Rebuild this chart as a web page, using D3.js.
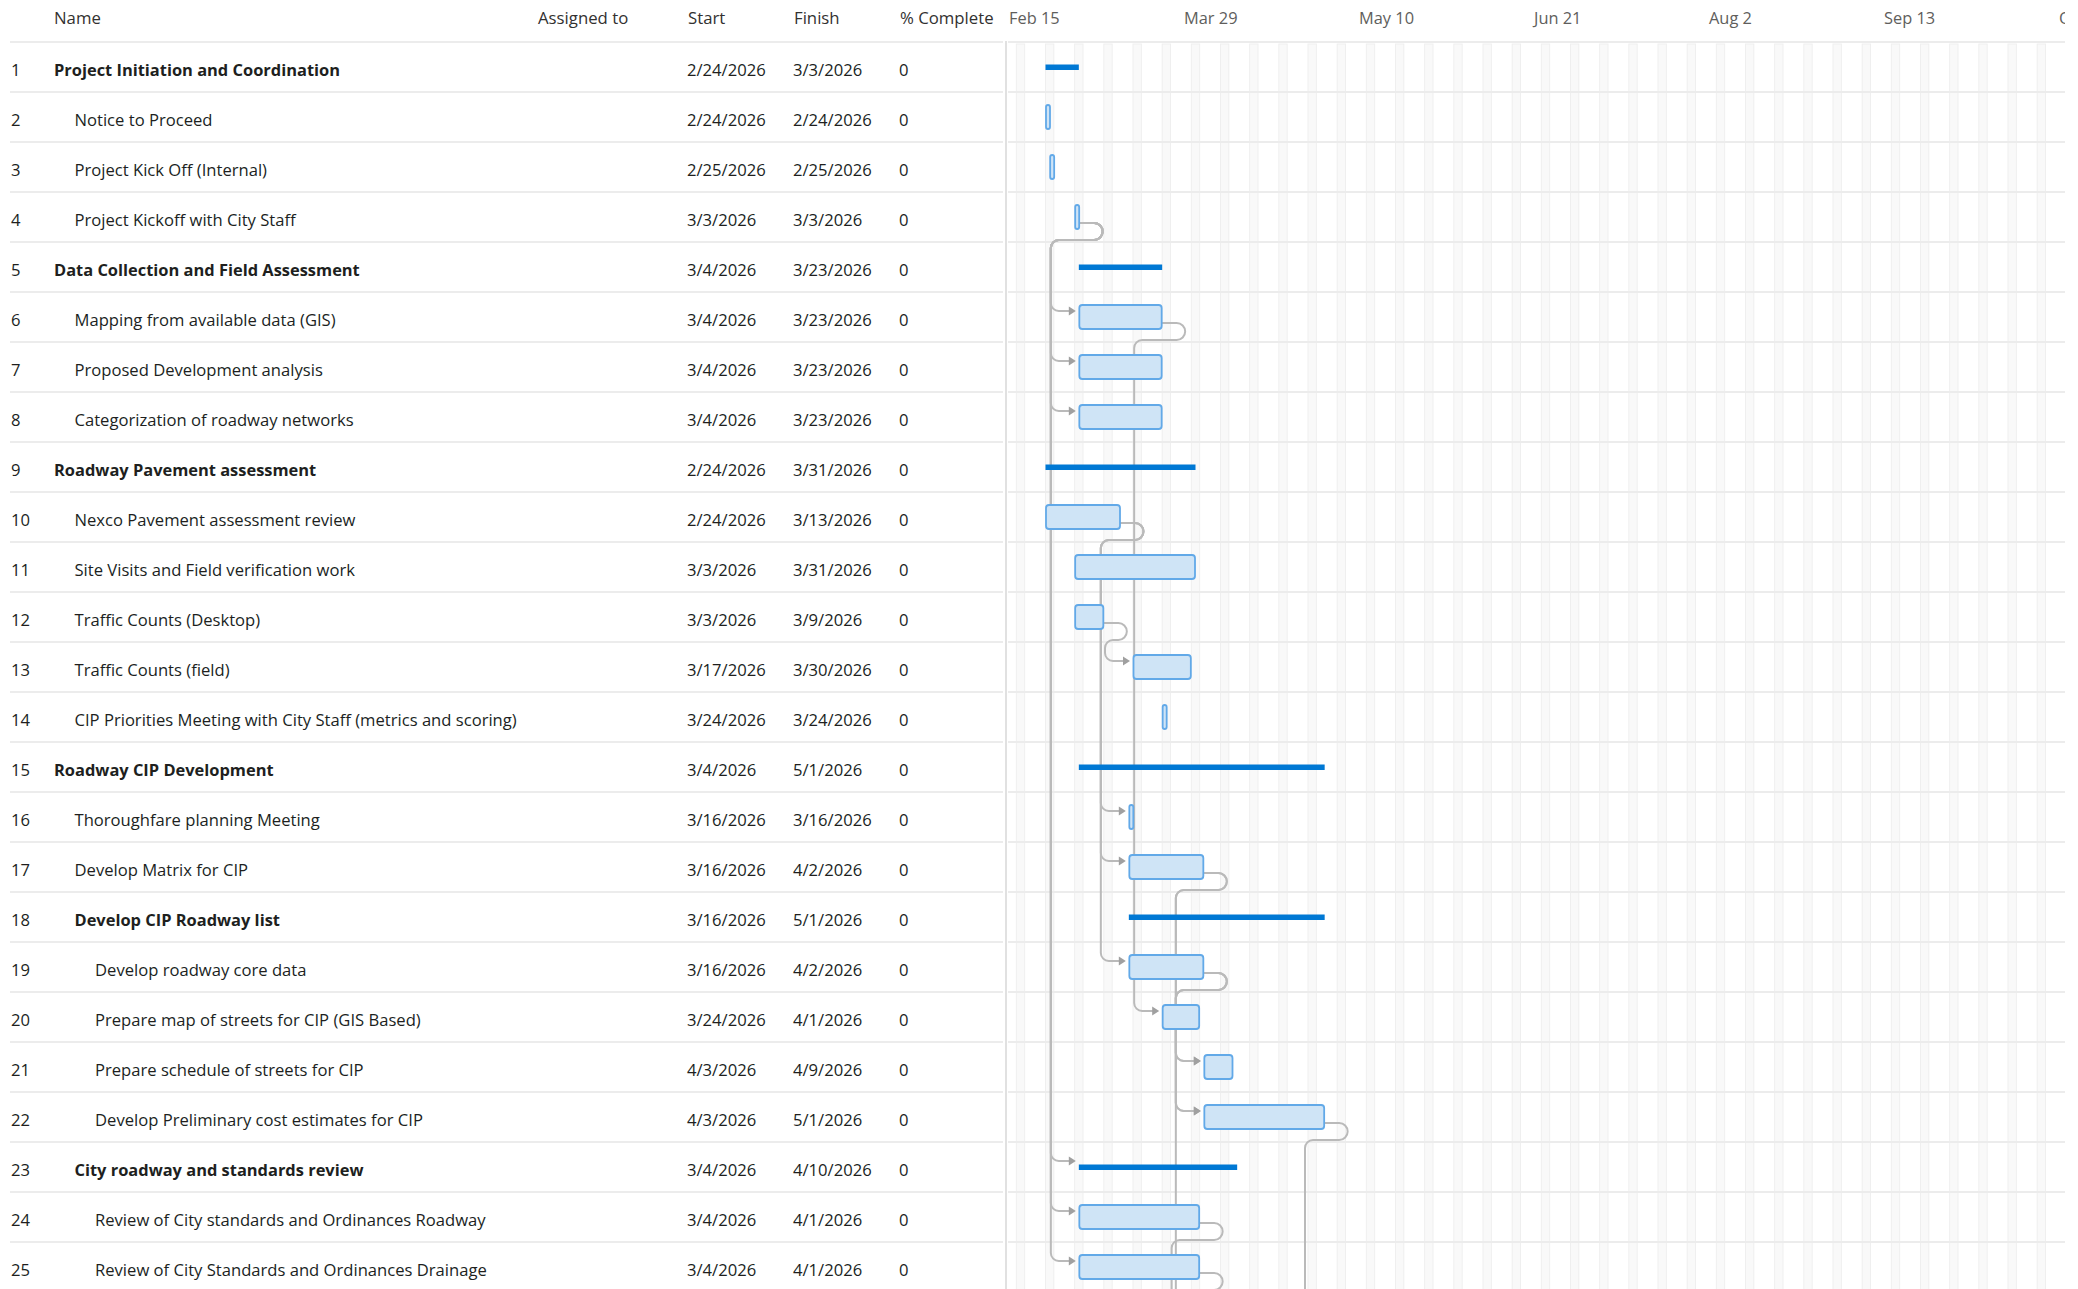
<!DOCTYPE html>
<html>
<head>
<meta charset="utf-8">
<script src="https://cdn.jsdelivr.net/npm/d3@7"></script>
<style>
  html, body { margin: 0; padding: 0; background: #ffffff; overflow: hidden; }
  svg { display: block; }
</style>
</head>
<body>
<svg id="chart" width="2078" height="1289"></svg>
<script>
// ---------------- DATA ----------------
const columnLabels = ["Name", "Assigned to", "Start", "Finish", "% Complete"];

const taskIds = [1,2,3,4,5,6,7,8,9,10,11,12,13,14,15,16,17,18,19,20,21,22,23,24,25];

const taskNames = [
  "Project Initiation and Coordination",
  "Notice to Proceed",
  "Project Kick Off (Internal)",
  "Project Kickoff with City Staff",
  "Data Collection and Field Assessment",
  "Mapping from available data (GIS)",
  "Proposed Development analysis",
  "Categorization of roadway networks",
  "Roadway Pavement assessment",
  "Nexco Pavement assessment review",
  "Site Visits and Field verification work",
  "Traffic Counts (Desktop)",
  "Traffic Counts (field)",
  "CIP Priorities Meeting with City Staff (metrics and scoring)",
  "Roadway CIP Development",
  "Thoroughfare planning Meeting",
  "Develop Matrix for CIP",
  "Develop CIP Roadway list",
  "Develop roadway core data",
  "Prepare map of streets for CIP (GIS Based)",
  "Prepare schedule of streets for CIP",
  "Develop Preliminary cost estimates for CIP",
  "City roadway and standards review",
  "Review of City standards and Ordinances Roadway",
  "Review of City Standards and Ordinances Drainage"
];

const taskLevels = [1,2,2,2,1,2,2,2,1,2,2,2,2,2,1,2,2,2,3,3,3,3,2,3,3];

const taskAssigned = ["","","","","","","","","","","","","","","","","","","","","","","","",""];

const taskStarts = [
  "2/24/2026","2/24/2026","2/25/2026","3/3/2026","3/4/2026","3/4/2026","3/4/2026","3/4/2026",
  "2/24/2026","2/24/2026","3/3/2026","3/3/2026","3/17/2026","3/24/2026","3/4/2026","3/16/2026",
  "3/16/2026","3/16/2026","3/16/2026","3/24/2026","4/3/2026","4/3/2026","3/4/2026","3/4/2026","3/4/2026"
];

const taskFinishes = [
  "3/3/2026","2/24/2026","2/25/2026","3/3/2026","3/23/2026","3/23/2026","3/23/2026","3/23/2026",
  "3/31/2026","3/13/2026","3/31/2026","3/9/2026","3/30/2026","3/24/2026","5/1/2026","3/16/2026",
  "4/2/2026","5/1/2026","4/2/2026","4/1/2026","4/9/2026","5/1/2026","4/10/2026","4/1/2026","4/1/2026"
];

const percentComplete = [0,0,0,0,0,0,0,0,0,0,0,0,0,0,0,0,0,0,0,0,0,0,0,0,0];

const summaryTasks = [1,5,9,15,18,23];
const zeroDurationTasks = [2,3,4,14,16];

// finish-to-start links [predecessor, successor]
const links = [
  [4,6],[4,7],[4,8],[4,23],[4,24],[4,25],
  [10,16],[10,17],[10,19],
  [12,13],
  [6,20],
  [17,21],[17,22],[19,21],[19,22]
];

// links to successors that lie below the visible rows: [predecessor, successor row, successor start]
const hiddenLinks = [
  [19, 26, "4/3/2026"],
  [22, 27, "5/4/2026"],
  [24, 28, "4/2/2026"],
  [25, 29, "4/2/2026"]
];

const timelineTicks = ["2/15/2026","3/29/2026","5/10/2026","6/21/2026","8/2/2026","9/13/2026","10/25/2026"];
const timelineStart = "2/15/2026";
const timelineEnd = "10/25/2026";

// ---------------- LAYOUT / STYLE ----------------
const FONT = "'Open Sans', 'Noto Sans', sans-serif";
const headerH = 42, rowH = 50;
const tableLeft = 10, tableRight = 1003;
const dividerX = 1006;
const chartLeft = 1008, chartRight = 2065, chartTickEnd = 2058;
const colX = { num: 11, name: 54, assigned: 538, start: 687, finish: 793, pct: 899 };
const indentStep = 20.5;

const C = {
  text: "#201f1e", header: "#323130", timeline: "#605e5c",
  rowLine: "#ececec", divider: "#e1e1e1",
  band: "#f9f9f9", bandEdge: "#efefef",
  summary: "#0078d4", barFill: "#cfe4f6", barStroke: "#62a9e8",
  link: "#bababa", arrow: "#a0a0a0"
};

const parse = d3.utcParse("%m/%d/%Y");
const dayMs = 86400000;

const tasks = taskIds.map((id, i) => ({
  id, row: i + 1,
  name: taskNames[i], level: taskLevels[i], assigned: taskAssigned[i],
  startStr: taskStarts[i], finishStr: taskFinishes[i], pct: percentComplete[i],
  start: parse(taskStarts[i]), finish: parse(taskFinishes[i]),
  summary: summaryTasks.includes(id), zero: zeroDurationTasks.includes(id)
}));
const byId = new Map(tasks.map(t => [t.id, t]));

const x = d3.scaleUtc().domain([parse(timelineStart), parse(timelineEnd)]).range([chartLeft, chartTickEnd]);
const rowTop = r => headerH + rowH * (r - 1);
const rowCenter = r => rowTop(r) + rowH / 2;

const svg = d3.select("#chart");

// text fitting helper (matches widths of the reference typeface)
const meas = svg.append("text").attr("font-family", FONT).attr("x", -5000).attr("y", -5000);
function fit(pairs, weight) {
  let s = 0;
  pairs.forEach(([str, w]) => {
    meas.attr("font-weight", weight).attr("font-size", 100).text(str);
    s += 100 * w / meas.node().getComputedTextLength();
  });
  return s / pairs.length;
}
const fsBody = fit([["Notice to Proceed", 138.6], ["CIP Priorities Meeting with City Staff (metrics and scoring)", 444], ["Review of City Standards and Ordinances Drainage", 389]], 400);
const fsBold = fit([["Project Initiation and Coordination", 286.4], ["Data Collection and Field Assessment", 305.7]], 700);
const fsHead = fit([["Assigned to", 90], ["% Complete", 94]], 400);
const fsTime = fit([["Mar 29", 54], ["Feb 15", 50.3]], 400);
meas.remove();

// ---------------- GRID ----------------
const defs = svg.append("defs");
defs.append("clipPath").attr("id", "chartClip")
  .append("rect").attr("x", chartLeft).attr("y", 0).attr("width", chartRight - chartLeft).attr("height", 1289);

const grid = svg.append("g").attr("clip-path", "url(#chartClip)");
const bandDays = d3.utcTuesday.range(parse("2/10/2026"), parse("11/10/2026"));
grid.selectAll("rect.band").data(bandDays).join("rect")
  .attr("class", "band")
  .attr("x", d => x(d))
  .attr("width", d => x(new Date(+d + 2 * dayMs)) - x(d))
  .attr("y", headerH + 2)
  .attr("height", 1289 - headerH)
  .attr("fill", C.band).attr("stroke", C.bandEdge).attr("stroke-width", 1);

// row lines
const lineRows = d3.range(0, 26);
svg.append("g").selectAll("line.tl").data(lineRows).join("line")
  .attr("x1", tableLeft).attr("x2", tableRight)
  .attr("y1", r => headerH + rowH * r).attr("y2", r => headerH + rowH * r)
  .attr("stroke", C.rowLine).attr("stroke-width", 2);
svg.append("g").selectAll("line.cl").data(lineRows).join("line")
  .attr("x1", chartLeft).attr("x2", chartRight)
  .attr("y1", r => headerH + rowH * r).attr("y2", r => headerH + rowH * r)
  .attr("stroke", C.rowLine).attr("stroke-width", 2);

svg.append("line").attr("x1", dividerX).attr("x2", dividerX).attr("y1", headerH - 1).attr("y2", 1289)
  .attr("stroke", C.divider).attr("stroke-width", 2);

// ---------------- HEADER ----------------
const headG = svg.append("g").attr("font-family", FONT).attr("font-size", fsHead).attr("fill", C.header);
const headX = [colX.name, colX.assigned, colX.start + 1, colX.finish + 1, colX.pct + 1];
headG.selectAll("text").data(columnLabels).join("text")
  .attr("x", (d, i) => headX[i]).attr("y", 23.5).text(d => d);

const fmtTick = d3.utcFormat("%b %-d");
svg.append("g").attr("clip-path", "url(#chartClip)")
  .attr("font-family", FONT).attr("font-size", fsTime).attr("fill", C.timeline)
  .selectAll("text").data(timelineTicks.map(parse)).join("text")
  .attr("x", d => x(d) + 1).attr("y", 23.5).text(d => fmtTick(d));

// ---------------- TABLE ROWS ----------------
const rowG = svg.append("g").attr("font-family", FONT).attr("fill", C.text)
  .selectAll("g").data(tasks).join("g")
  .attr("transform", d => `translate(0,${rowTop(d.row) + 34})`);
rowG.append("text").attr("x", colX.num).attr("font-size", fsBody).text(d => d.id);
rowG.append("text")
  .attr("x", d => colX.name + (d.level - 1) * indentStep)
  .attr("font-size", d => d.summary ? fsBold : fsBody)
  .attr("font-weight", d => d.summary ? 700 : 400)
  .text(d => d.name);
rowG.append("text").attr("x", colX.assigned).attr("font-size", fsBody).text(d => d.assigned);
rowG.append("text").attr("x", colX.start).attr("font-size", fsBody).text(d => d.startStr);
rowG.append("text").attr("x", colX.finish).attr("font-size", fsBody).text(d => d.finishStr);
rowG.append("text").attr("x", colX.pct).attr("font-size", fsBody).text(d => d.pct);

// ---------------- LINKS ----------------
const zeroW = 5;
const endX = t => t.zero ? x(t.start) + zeroW : x(new Date(+t.finish + dayMs));

function linkPath(pred, targetRow, targetStart) {
  const sx = endX(pred) - 0.5;
  const sy = rowCenter(pred.row) + 6;
  const bottom = rowTop(pred.row) + rowH - 2;
  const r1 = (bottom - sy) / 2;
  const hx = sx + 15;
  const tx = x(targetStart);
  const vx = tx - 28;
  const ty = rowCenter(targetRow) - 6;
  const r = 8;
  const tip = tx - 3;
  return {
    line: `M${sx},${sy}H${hx}A${r1},${r1} 0 0 1 ${hx},${bottom}H${vx + r}A${r},${r} 0 0 0 ${vx},${bottom + r}V${ty - r}A${r},${r} 0 0 0 ${vx + r},${ty}H${tip - 6}`,
    arrow: `M${tip},${ty}L${tip - 7},${ty - 4.5}L${tip - 7},${ty + 4.5}Z`
  };
}

const allLinks = links.map(([p, s]) => linkPath(byId.get(p), byId.get(s).row, byId.get(s).start))
  .concat(hiddenLinks.map(([p, r, d]) => linkPath(byId.get(p), r, parse(d))));

const linkG = svg.append("g").attr("clip-path", "url(#chartClip)");
linkG.selectAll("path.l").data(allLinks).join("path")
  .attr("d", d => d.line).attr("fill", "none")
  .attr("stroke", C.link).attr("stroke-width", 2);
linkG.selectAll("path.a").data(allLinks).join("path")
  .attr("d", d => d.arrow).attr("fill", C.arrow);

// ---------------- BARS ----------------
const barG = svg.append("g").attr("clip-path", "url(#chartClip)");
barG.selectAll("rect.summary").data(tasks.filter(t => t.summary)).join("rect")
  .attr("x", d => x(d.start))
  .attr("width", d => x(new Date(+d.finish + dayMs)) - x(d.start))
  .attr("y", d => rowCenter(d.row) - 2.5).attr("height", 5.5)
  .attr("fill", C.summary);

barG.selectAll("rect.task").data(tasks.filter(t => !t.summary)).join("rect")
  .attr("x", d => x(d.start) + 0.5)
  .attr("width", d => d.zero ? zeroW - 1 : x(new Date(+d.finish + dayMs)) - x(d.start) - 1)
  .attr("y", d => rowCenter(d.row) - 12)
  .attr("height", 24)
  .attr("rx", d => d.zero ? 2 : 3).attr("ry", d => d.zero ? 2 : 3)
  .attr("fill", C.barFill).attr("stroke", C.barStroke).attr("stroke-width", 1.8);
</script>
</body>
</html>
